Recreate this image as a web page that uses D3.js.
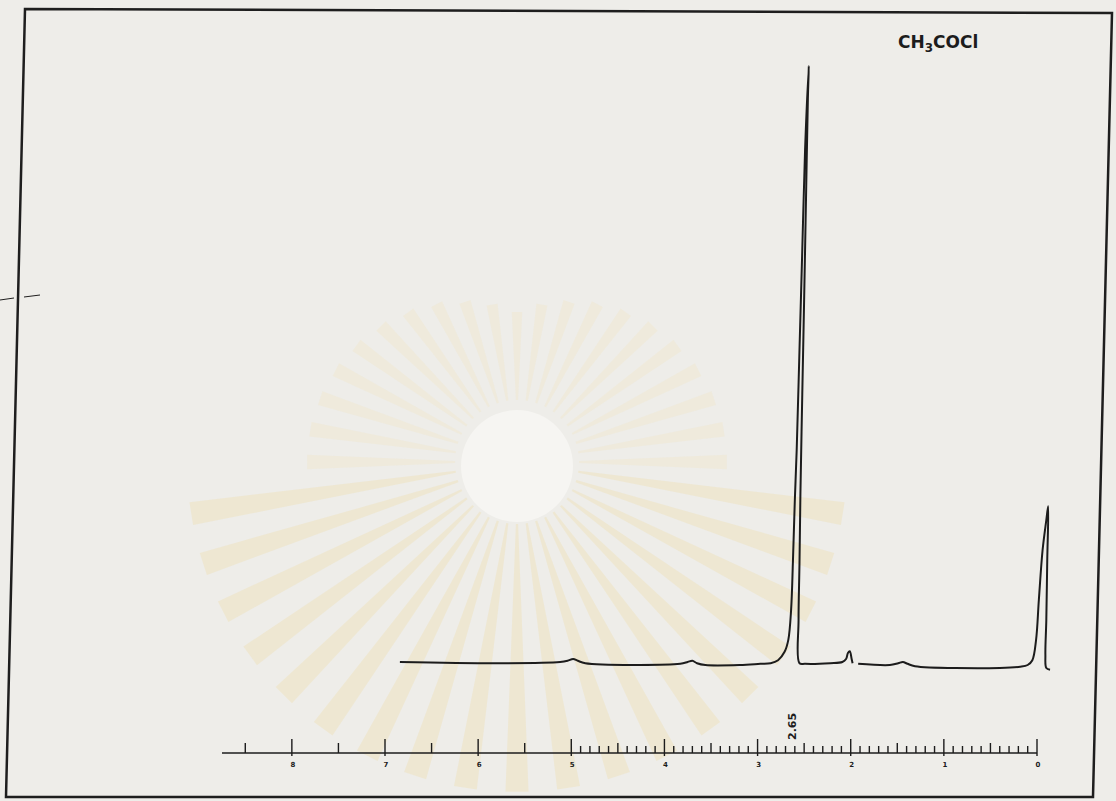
<!DOCTYPE html>
<html>
<head>
<meta charset="utf-8">
<script src="https://d3js.org/d3.v7.min.js"></script>
<style>
	body{ margin:0; background:#eeede9; }
	svg{ display:block; }
	.frame{ fill:none; stroke:#1e1e1e; stroke-width:2.5; }
	.spec{ fill:none; stroke:#1c1c1c; stroke-width:2; stroke-linejoin:round; }
	.axisline{ stroke:#1c1c1c; stroke-width:1.6; }
	.tick{ stroke:#1c1c1c; stroke-width:1.4; }
	.lbl{ font:bold 7px "DejaVu Sans", sans-serif; fill:#1c1c1c; }
</style>
</head>
<body>
<div id="chart"></div>
<script>
// chemical shift scale (ppm), written right to left like the recorder paper
var majorTicks = [8, 7, 6, 5, 4, 3, 2, 1, 0];
var majorLabels = ["8", "7", "6", "5", "4", "3", "2", "1", "0"];
var halfTicks = [8.5, 7.5, 6.5, 5.5, 4.5, 3.5, 2.5, 1.5, 0.5];
var fineFrom = 5; // 0.1 ppm ticks from here to 0
var peakLabel = "2.65";
var title = ["CH", "3", "COCl"];

// trace: ppm and relative height (main peak = 100)
var seg1Ppm = [6.84, 5.77, 5.12, 5.04, 4.98, 4.93, 4.85, 3.83, 3.75, 3.70, 3.65, 3.56, 3.19, 2.97,
	2.86, 2.78, 2.71, 2.67, 2.64, 2.62, 2.60, 2.58, 2.55, 2.52, 2.49, 2.45,
	2.46, 2.48, 2.50, 2.52, 2.54, 2.55, 2.56, 2.55, 2.49, 2.22, 2.09, 2.05, 2.03, 2.01, 1.99, 1.98];
var seg1Int = [0.5, 0.3, 0.5, 0.7, 1.0, 0.7, 0.3, 0.2, 0.5, 0.7, 0.3, 0, 0, 0.2,
	0.3, 0.8, 2.2, 4.2, 9.2, 17.5, 27.5, 35.9, 52.6, 69.3, 86, 100,
	94.5, 77.8, 61.1, 45.2, 28.6, 16.9, 7.5, 0.3, 0.2, 0.3, 0.5, 1.0, 2.0, 2.3, 1.0, 0.3];
var seg2Ppm = [1.92, 1.58, 1.49, 1.44, 1.39, 1.31, 0.40, 0.18, 0.10, 0.05, 0.01, -0.02, -0.06, -0.10, -0.12,
	-0.11, -0.10, -0.09, -0.10, -0.14];
var seg2Int = [0.2, 0, 0.3, 0.5, 0.2, -0.2, -0.5, -0.3, 0, 0.8, 4.2, 10.9, 19.2, 24.2, 26.5,
	17.5, 7.5, 1.7, -0.5, -0.8];

var W = 1116, H = 801;
var svg = d3.select("#chart").append("svg").attr("width", W).attr("height", H);

// scanned paper + faint watermark
svg.append("rect").attr("width", W).attr("height", H).attr("fill", "#eeede9");
var wm = svg.append("g").attr("transform", "translate(517,462)");
d3.range(40).forEach(function(i){
	var a = i / 40 * 2 * Math.PI;
	var lower = Math.sin(a) > 0.1;
	var r1 = 62, r2 = lower ? 330 : 150 + 60 * Math.abs(Math.cos(a));
	var w = 0.035;
	var p = [[r1*Math.cos(a-w/2), r1*Math.sin(a-w/2)], [r2*Math.cos(a-w), r2*Math.sin(a-w)],
		[r2*Math.cos(a+w), r2*Math.sin(a+w)], [r1*Math.cos(a+w/2), r1*Math.sin(a+w/2)]];
	wm.append("path").attr("d", "M" + p.join("L") + "Z")
		.attr("fill", lower ? "#efdc9e" : "#f0e6c6").attr("opacity", lower ? 0.3 : 0.35);
});
wm.append("circle").attr("r", 56).attr("cy", 4).attr("fill", "#f6f5f2");

// frame (scan is slightly skewed)
svg.append("path").attr("class", "frame").attr("d", "M25,9L1112,13L1093,797L6,797Z");
svg.append("path").attr("class", "frame").style("stroke-width", 1).attr("d", "M0,300L14,298M24,297L40,295");

var x = d3.scaleLinear().domain([8.75, 0]).range([222, 1037]);
var y = d3.scaleLinear().domain([0, 100]).range([665, 66]);

var line = d3.line().x(function(d){ return x(d[0]); }).y(function(d){ return y(d[1]); })
	.curve(d3.curveCatmullRom.alpha(0.5));

svg.append("path").attr("class", "spec").attr("d", line(d3.zip(seg1Ppm, seg1Int)));
svg.append("path").attr("class", "spec").attr("d", line(d3.zip(seg2Ppm, seg2Int)));

// ppm axis
var ay = 753;
svg.append("line").attr("class", "axisline")
	.attr("x1", x(8.75)).attr("x2", x(0)).attr("y1", ay).attr("y2", ay);

var fine = d3.range(1, fineFrom * 10).map(function(k){ return k / 10; })
	.filter(function(v){ return Math.abs(v * 2 - Math.round(v * 2)) > 0.01; });

svg.selectAll("line.fine").data(fine).enter().append("line").attr("class", "tick fine")
	.attr("x1", function(d){ return x(d); }).attr("x2", function(d){ return x(d); })
	.attr("y1", ay - 7).attr("y2", ay);
svg.selectAll("line.half").data(halfTicks).enter().append("line").attr("class", "tick half")
	.attr("x1", function(d){ return x(d); }).attr("x2", function(d){ return x(d); })
	.attr("y1", ay - 10).attr("y2", ay);
svg.selectAll("line.major").data(majorTicks).enter().append("line").attr("class", "tick major")
	.attr("x1", function(d){ return x(d); }).attr("x2", function(d){ return x(d); })
	.attr("y1", ay - 14).attr("y2", ay + 3);
svg.selectAll("text.lbl").data(majorTicks).enter().append("text").attr("class", "lbl")
	.attr("x", function(d){ return x(d) + 1; }).attr("y", ay + 14)
	.attr("text-anchor", "middle")
	.text(function(d, i){ return majorLabels[i]; });

svg.append("text").attr("class", "lbl").style("font-size", "11px")
	.attr("transform", "translate(" + (x(+peakLabel) + 6) + "," + (ay - 13) + ") rotate(-90)")
	.text(peakLabel);

// compound name
var t = svg.append("text").attr("x", 898).attr("y", 48)
	.style("font", "600 17px 'DejaVu Sans', sans-serif").attr("fill", "#1c1c1c");
t.append("tspan").text(title[0]);
t.append("tspan").attr("dy", 4).style("font-size", "12px").text(title[1]);
t.append("tspan").attr("dy", -4).text(title[2]);
</script>
</body>
</html>
